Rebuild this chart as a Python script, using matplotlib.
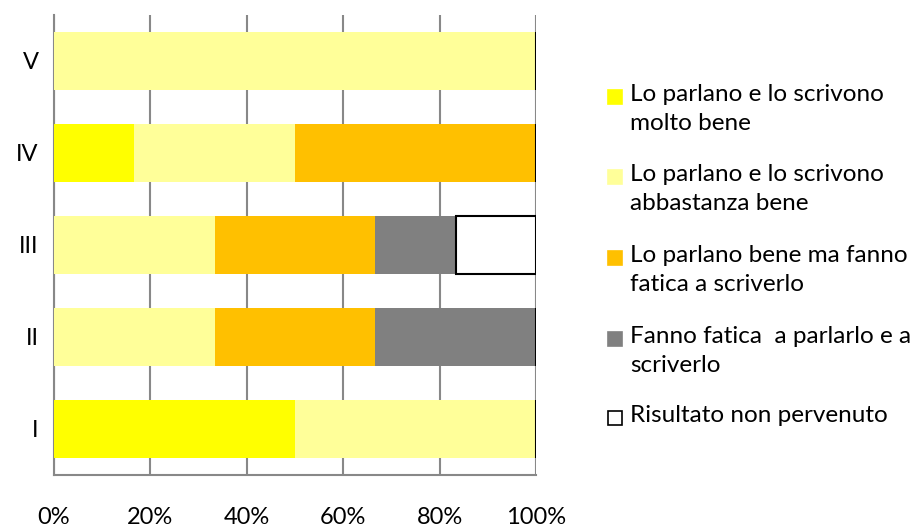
import numpy as np
import matplotlib
matplotlib.use("Agg")
import matplotlib.pyplot as plt
from matplotlib.patches import Rectangle

plt.rcParams['font.family'] = ['Lato', 'DejaVu Sans']

classi = ["I", "II", "III", "IV", "V"]
series_names = ["Lo parlano e lo scrivono\nmolto bene",
                "Lo parlano e lo scrivono\nabbastanza bene",
                "Lo parlano bene ma fanno\nfatica a scriverlo",
                "Fanno fatica  a parlarlo e a\nscriverlo",
                "Risultato non pervenuto"]
molto_bene = [50, 0, 0, 16.67, 0]
abbastanza = [50, 33.33, 33.33, 33.33, 100]
fatica_scrivere = [0, 33.33, 33.33, 50, 0]
fatica_entrambi = [0, 33.34, 16.67, 0, 0]
non_pervenuto = [0, 0, 16.67, 0, 0]
colors = ["#FFFF00", "#FFFF99", "#FFC000", "#808080", "#FFFFFF"]

fig = plt.figure(figsize=(9.18, 5.28), dpi=100)
ax = fig.add_axes([0.0588, 0.1004, 0.525, 0.8712])

y = np.arange(len(classi))
left = np.zeros(len(classi))
for i, vals in enumerate([molto_bene, abbastanza, fatica_scrivere, fatica_entrambi, non_pervenuto]):
    vals = np.array(vals)
    if i == 4:
        ax.barh(y, vals, left=left, height=0.64, color=colors[i], edgecolor="black", linewidth=1.5, zorder=3)
    else:
        ax.barh(y, vals, left=left, height=0.64, color=colors[i], linewidth=0, zorder=3)
    left = left + vals

ax.set_xlim(0, 100)
ax.set_ylim(-0.5, 4.5)
ax.set_xticks([0, 20, 40, 60, 80, 100])
ax.set_xticklabels(["0%", "20%", "40%", "60%", "80%", "100%"], fontsize=17)
ax.set_yticks(y)
ax.set_yticklabels(classi, fontsize=17)
ax.tick_params(axis='x', length=0, pad=23)
ax.tick_params(axis='y', length=0, pad=11)
ax.grid(axis='x', color="#888888", linewidth=1.5, zorder=0)
for s in ["top", "right"]:
    ax.spines[s].set_visible(False)
for s in ["left", "bottom"]:
    ax.spines[s].set_color("#888888")
    ax.spines[s].set_linewidth(1.5)

# legend drawn by hand to keep the square on the first line
ys = [97, 177, 258, 339, 418]
for i, name in enumerate(series_names):
    yy = 1 - ys[i] / 528
    ec = "black" if i == 4 else colors[i]
    fig.patches.append(Rectangle((608 / 918, yy - 7 / 528), 14 / 918, 14 / 528,
                                 transform=fig.transFigure, facecolor=colors[i],
                                 edgecolor=ec, linewidth=1.2))
    fig.text(630 / 918, yy + 13 / 528, name, fontsize=17.5, va="top", ha="left", linespacing=1.45)

fig.savefig("out.png", dpi=100)
